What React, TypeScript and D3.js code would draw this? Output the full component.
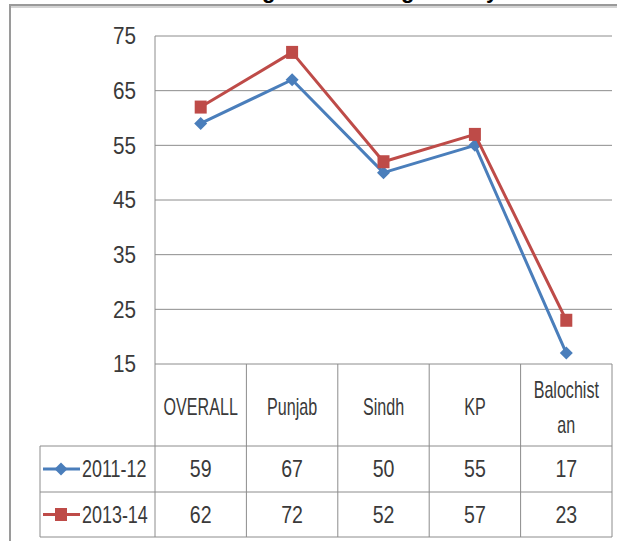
import React from 'react';
import * as d3 from 'd3';

// chart values
const categories = ['OVERALL', 'Punjab', 'Sindh', 'KP', 'Balochistan'];
const seriesNames = ['2011-12', '2013-14'];
const values2011 = [59, 67, 50, 55, 17];
const values2013 = [62, 72, 52, 57, 23];
const yTicks = [15, 25, 35, 45, 55, 65, 75];

const W = 617;
const H = 541;
const FONT = '"Liberation Sans", Arial, sans-serif';
const BLUE = '#4a7ebb';
const RED = '#be4b48';
const GRID = '#8c8c8c';
const TXT = '#3a3a3a';

// narrow text, the original uses a condensed face
const Txt = ({ x, y, anchor = 'middle', sx = 0.8, size = 23, children }:
  { x: number; y: number; anchor?: string; sx?: number; size?: number; children: React.ReactNode }) => (
  <text transform={`translate(${x},${y}) scale(${sx},1)`} textAnchor={anchor} dy="0.36em"
    fontSize={size} fill={TXT}>{children}</text>
);

const App = () => {
  const plotLeft = 155;
  const plotRight = 612;
  const x = d3.scaleBand<string>().domain(categories).range([plotLeft, plotRight]).padding(0);
  const y = d3.scaleLinear().domain([15, 75]).range([364, 36]);
  const cx = (c: string) => (x(c) as number) + x.bandwidth() / 2;

  const line = d3.line<number>()
    .x((_, i) => cx(categories[i]))
    .y(d => y(d));

  // data table rows
  const tableTop = 364;
  const headerBottom = 446;
  const row1Bottom = 492;
  const row2Bottom = 537;
  const legendLeft = 40;

  const series = [
    { name: seriesNames[0], values: values2011, color: BLUE, marker: 'diamond' },
    { name: seriesNames[1], values: values2013, color: RED, marker: 'square' },
  ];
  const rowMid = [(headerBottom + row1Bottom) / 2, (row1Bottom + row2Bottom) / 2];

  const marker = (kind: string, px: number, py: number, color: string, key: string) =>
    kind === 'diamond'
      ? <path key={key} d={`M${px},${py - 6.5}L${px + 6.5},${py}L${px},${py + 6.5}L${px - 6.5},${py}Z`} fill={color} />
      : <rect key={key} x={px - 6} y={py - 6.5} width={12} height={13} fill={color} />;

  return (
    <svg width={W} height={H} style={{ position: 'absolute', left: 0, top: 0, background: '#fff' }}
      fontFamily={FONT}>
      {/* cropped title: only descenders show above the frame */}
      <g fontWeight="bold" fontSize={22} fill="#000">
        <text x={262} y={-2}>g</text>
        <text x={401} y={-2}>g</text>
        <text x={486} y={-2}>y</text>
      </g>
      {/* outer frame, runs past the right and bottom edges */}
      <rect x={10} y={5} width={W + 20} height={H + 20} fill="none" stroke="#9a9a9a" strokeWidth={2} />
      <line x1={11} x2={W} y1={7} y2={7} stroke="#d4d4d4" strokeWidth={2} />

      {/* gridlines */}
      {yTicks.map(t => (
        <line key={t} x1={plotLeft} x2={plotRight} y1={y(t)} y2={y(t)} stroke={GRID} strokeWidth={1} />
      ))}
      <line x1={plotLeft} x2={plotLeft} y1={y(75)} y2={row2Bottom} stroke={GRID} />

      {/* y tick labels */}
      {yTicks.map(t => (
        <Txt key={'l' + t} x={136} y={y(t)} anchor="end" sx={0.9}>{t}</Txt>
      ))}

      {/* data table */}
      <g stroke={GRID} strokeWidth={1}>
        {categories.map(c => (
          <line key={c} x1={(x(c) as number) + x.bandwidth()} x2={(x(c) as number) + x.bandwidth()}
            y1={tableTop} y2={row2Bottom} />
        ))}
        <line x1={legendLeft} x2={plotRight} y1={headerBottom} y2={headerBottom} />
        <line x1={legendLeft} x2={plotRight} y1={row1Bottom} y2={row1Bottom} />
        <line x1={legendLeft} x2={plotRight} y1={row2Bottom} y2={row2Bottom} />
        <line x1={legendLeft} x2={legendLeft} y1={headerBottom} y2={row2Bottom} />
      </g>
      {categories.map(c => {
        const parts = c === 'Balochistan' ? ['Balochist', 'an'] : [c];
        const mid = (tableTop + headerBottom) / 2 + 2;
        return parts.map((p, i) => (
          <Txt key={c + i} x={cx(c)} y={mid + (i - (parts.length - 1) / 2) * 35} sx={0.7}>{p}</Txt>
        ));
      })}
      {series.map((s, si) => (
        <g key={s.name}>
          <line x1={43} x2={80} y1={rowMid[si]} y2={rowMid[si]} stroke={s.color} strokeWidth={3} />
          {marker(s.marker, 61, rowMid[si], s.color, 'lm')}
          <Txt x={82} y={rowMid[si]} anchor="start" sx={0.78}>{s.name}</Txt>
          {s.values.map((v, i) => (
            <Txt key={i} x={cx(categories[i])} y={rowMid[si]} sx={0.85}>{v}</Txt>
          ))}
        </g>
      ))}

      {/* series lines */}
      {series.map(s => (
        <g key={'s' + s.name}>
          <path d={line(s.values) as string} fill="none" stroke={s.color} strokeWidth={3} strokeLinejoin="round" />
          {s.values.map((v, i) => marker(s.marker, cx(categories[i]), y(v), s.color, 'm' + i))}
        </g>
      ))}
    </svg>
  );
};

export default App;
